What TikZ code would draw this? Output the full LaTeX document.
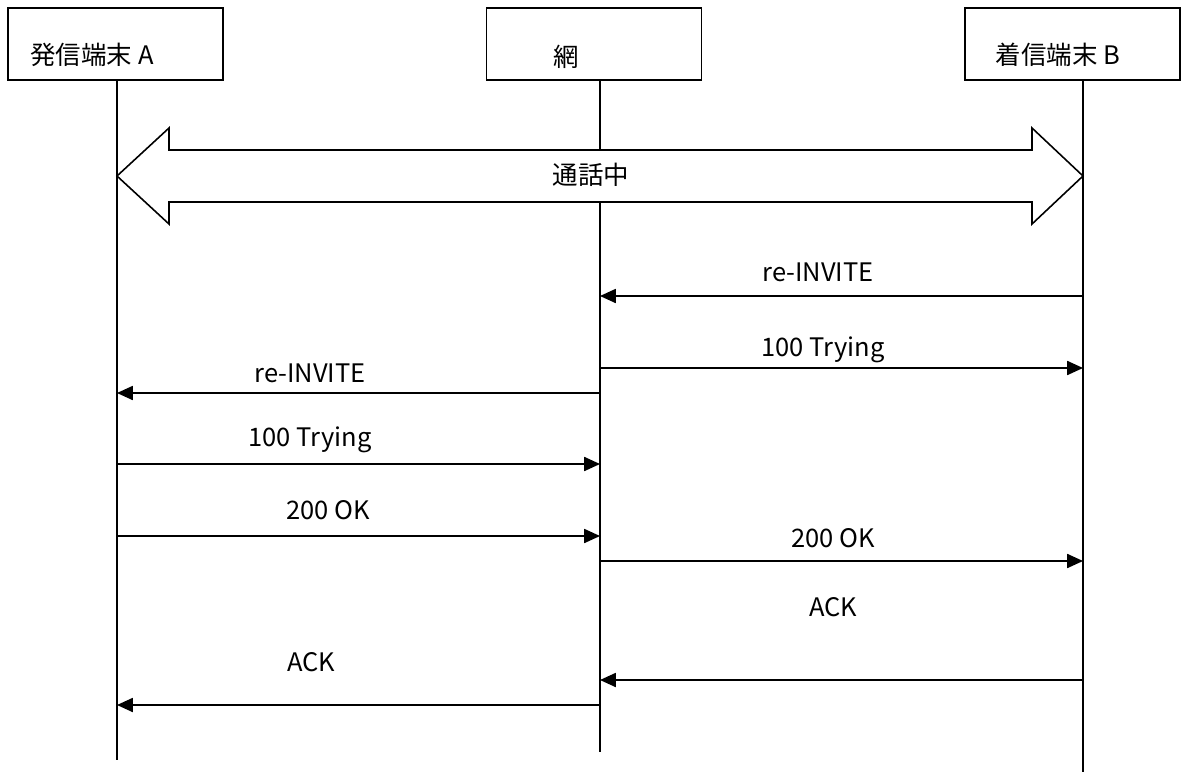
\documentclass[tikz,border=0pt]{standalone}
\usepackage{fontspec}
\setmainfont{Noto Sans CJK JP}
\usetikzlibrary{arrows.meta,positioning}
\tikzset{
  entity/.style={rectangle, draw, line width=0.9pt, minimum width=4.3cm,
                 minimum height=1.44cm, inner sep=0pt},
  life/.style={line width=0.9pt},
  msg/.style={line width=0.9pt, -{Triangle[length=9pt,width=8pt]}},
  mlabel/.style={inner sep=1pt},
  talk/.style={draw, line width=0.9pt, fill=white, line join=miter},
}

\begin{document}
\begin{tikzpicture}[x=0.02cm, y=-0.02cm, font=\fontsize{14.5}{17}\selectfont]
  \useasboundingbox (0,0) rectangle (1186,774);
  % entities
  \node[entity] (boxA) at (115.5,44) {};
  \node[entity] (boxN) at (594,44) {};
  \node[entity] (boxB) at (1072.5,44) {};
  \node (nameA) at (92,55) {発信端末 A};
  \node (nameN) at (566,57) {網};
  \node (nameB) at (1058,55) {着信端末 B};
  % lifelines
  \coordinate (lA) at (117,80);  \coordinate (eA) at (117,760);
  \coordinate (lN) at (600,80);  \coordinate (eN) at (600,752);
  \coordinate (lB) at (1083,80); \coordinate (eB) at (1083,772);
  \draw[life] (lA) -- (eA);
  \draw[life] (lN) -- (eN);
  \draw[life] (lB) -- (eB);
  % call in progress
  \draw[talk] (lA |- 0,176) -- (169,128) -- (169,150) -- (1032,150) -- (1032,128)
    -- (lB |- 0,176) -- (1032,224) -- (1032,202) -- (169,202) -- (169,224) -- cycle;
  \node (talking) at (591,175) {通話中};
  % messages
  \draw[msg] (lB |- 0,296) -- (lN |- 0,296);
  \node[mlabel] (m1) at (818,272) {re-INVITE};
  \draw[msg] (lN |- 0,368) -- (lB |- 0,368);
  \node[mlabel] (m2) at (823,350) {100 Trying};
  \draw[msg] (lN |- 0,393) -- (lA |- 0,393);
  \node[mlabel] (m3) at (310,373) {re-INVITE};
  \draw[msg] (lA |- 0,464) -- (lN |- 0,464);
  \node[mlabel] (m4) at (310,440) {100 Trying};
  \draw[msg] (lA |- 0,536) -- (lN |- 0,536);
  \node[mlabel] (m5) at (328,510) {200 OK};
  \draw[msg] (lN |- 0,561) -- (lB |- 0,561);
  \node[mlabel] (m6) at (833,538) {200 OK};
  \draw[msg] (lB |- 0,680) -- (lN |- 0,680);
  \node[mlabel] (m7) at (833,607) {ACK};
  \draw[msg] (lN |- 0,705) -- (lA |- 0,705);
  \node[mlabel] (m8) at (311,662) {ACK};
\end{tikzpicture}
\end{document}
